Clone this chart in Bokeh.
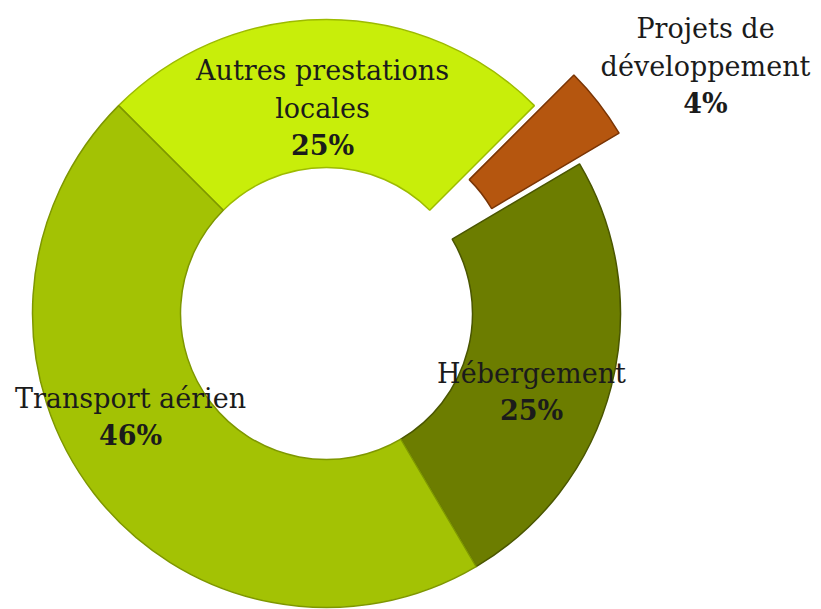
import math
from bokeh.plotting import figure
from bokeh.models import Range1d, ColumnDataSource
from bokeh.core.properties import value
from bokeh.embed import file_html
from bokeh.resources import INLINE

# ---- data ----
categories = ["Autres prestations locales", "Projets de développement", "Hébergement", "Transport aérien"]
name_lines = [["Autres prestations", "locales"], ["Projets de", "développement"], ["Hébergement"], ["Transport aérien"]]
values = [25, 4, 25, 46]
pct_labels = ["25%", "4%", "25%", "46%"]

# ---- style / layout ----
fill_colors = ["#C8EE0A", "#B5560F", "#6C7D00", "#A3C204"]
edge_colors = ["#9DBB00", "#7A3505", "#4A5600", "#7E9700"]
explode_px = [0, 50, 0, 0]
label_dx = [-4, 379, 205, -196]
label_dy = [168, 210, -97, -122]
W, H = 821, 609
CX, CY = 326, 296
R_OUT, R_IN = 294, 146
START_DEG = 135
LINE_H = 37.5
FONT = "DejaVu Serif"
FSIZE = "27px"

total = float(sum(values))
starts, ends, xs, ys = [], [], [], []
cum = 0.0
for v, ex in zip(values, explode_px):
    a0 = math.radians(START_DEG) - cum / total * 2 * math.pi
    cum += v
    a1 = math.radians(START_DEG) - cum / total * 2 * math.pi
    mid = (a0 + a1) / 2
    starts.append(a1)
    ends.append(a0)
    xs.append(CX + ex * math.cos(mid))
    ys.append(CY + ex * math.sin(mid))

src = ColumnDataSource(dict(x=xs, y=ys, start=starts, end=ends, fill=fill_colors,
                            edge=edge_colors, cat=categories))

p = figure(width=W, height=H, x_range=Range1d(0, W), y_range=Range1d(0, H),
           x_axis_type=None, y_axis_type=None, min_border=0,
           toolbar_location=None, output_backend="svg")
p.grid.visible = False
p.outline_line_color = None
p.background_fill_color = "white"

p.annular_wedge(x="x", y="y", inner_radius=R_IN, outer_radius=R_OUT,
                start_angle="start", end_angle="end", fill_color="fill",
                line_color="edge", line_width=1.5, source=src)

# labels
nx, ny, nt, px, py, pt = [], [], [], [], [], []
for lines, pct, dx, dy in zip(name_lines, pct_labels, label_dx, label_dy):
    bx, by = CX + dx, CY + dy
    px.append(bx); py.append(by); pt.append(pct)
    n = len(lines)
    for i, ln in enumerate(lines):
        nx.append(bx)
        ny.append(by + (n - i) * LINE_H)
        nt.append(ln)

p.text(x=nx, y=ny, text=nt, text_font=value(FONT), text_font_size=FSIZE,
       text_align="center", text_baseline="middle", text_color="#1b1b1b")
p.text(x=px, y=py, text=pt, text_font=value(FONT), text_font_size=FSIZE,
       text_font_style="bold", text_align="center", text_baseline="middle",
       text_color="#1b1b1b")

open("out.html", "w").write(file_html(p, INLINE))
